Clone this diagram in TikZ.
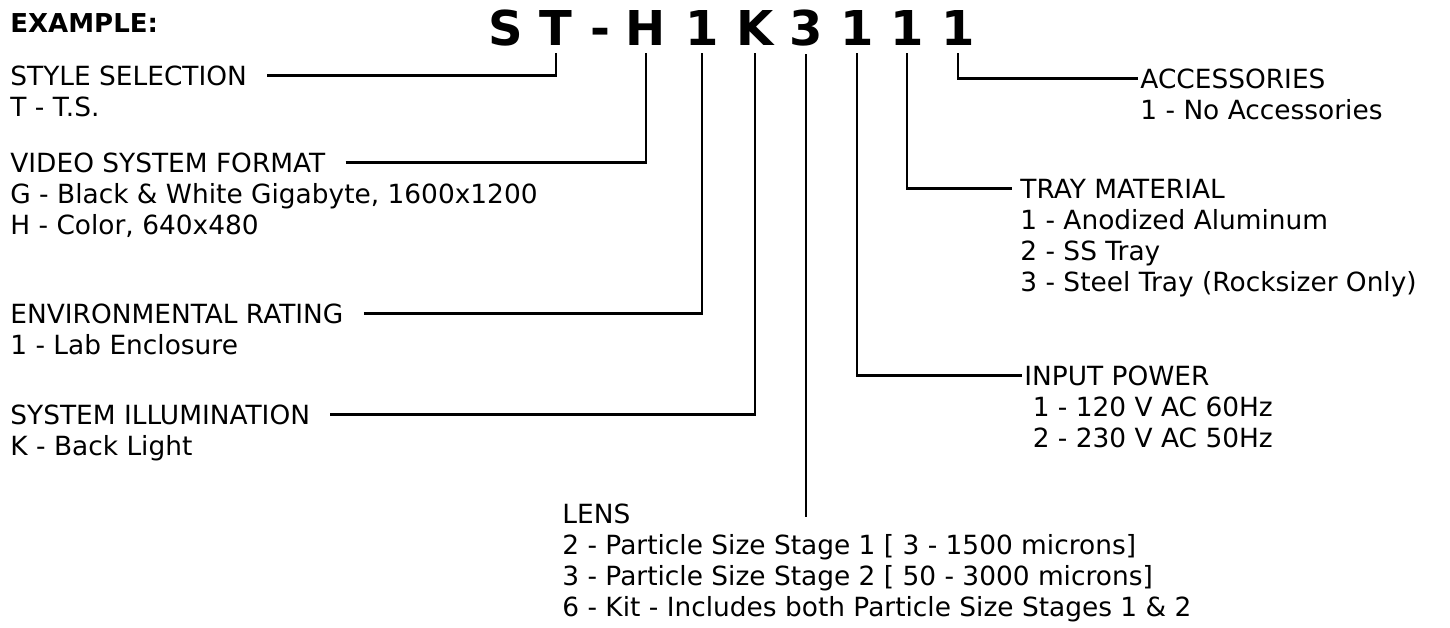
\documentclass[tikz,border=0pt]{standalone}
\usepackage{fontspec}
\setmainfont{DejaVu Sans}
\usetikzlibrary{positioning}

\tikzset{
  code/.style={font=\fontsize{24}{28}\selectfont\bfseries, anchor=base, inner xsep=0pt, inner ysep=4pt},
  title/.style={font=\fontsize{13.2}{15.5}\selectfont, anchor=base west, inner sep=0pt},
  items/.style={font=\fontsize{13.2}{15.5}\selectfont, align=left, inner sep=0pt, anchor=north west},
  lead/.style={line width=1.3pt},
}

\begin{document}
\begin{tikzpicture}[x=0.5pt, y=-0.5pt]
  \useasboundingbox (0,0) rectangle (1450,627);

  \node[title, font=\fontsize{13}{15.5}\selectfont\bfseries] (ex) at (10,32) {EXAMPLE:};

  % part number, one node per character
  \foreach \ch/\x/\n in {S/506/cS, T/556/cT, -/600/cD, H/646/cH, 1/702/cE, K/755/cK, 3/806/cL, 1/857/cP, 1/907/cM, 1/958/cA}
    \node[code] (\n) at (\x,45) {\ch};

  % left side
  \node[title] (sty) at (10,85) {STYLE SELECTION};
  \node[below=4.65pt of sty.base west, items] (sty-i) {\strut T - T.S.};
  \draw[lead] ([xshift=10pt]sty.east) -| (cT.south);

  \node[title] (vid) at (10,172) {VIDEO SYSTEM FORMAT};
  \node[below=4.65pt of vid.base west, items] (vid-i)
    {\strut G - Black \& White Gigabyte, 1600x1200\\ \strut H - Color, 640x480};
  \draw[lead] ([xshift=10pt]vid.east) -| (cH.south);

  \node[title] (env) at (10,323) {ENVIRONMENTAL RATING};
  \node[below=4.65pt of env.base west, items] (env-i) {\strut 1 - Lab Enclosure};
  \draw[lead] ([xshift=10pt]env.east) -| (cE.south);

  \node[title] (ill) at (10,424) {SYSTEM ILLUMINATION};
  \node[below=4.65pt of ill.base west, items] (ill-i) {\strut K - Back Light};
  \draw[lead] ([xshift=10pt]ill.east) -| (cK.south);

  % right side
  \node[title] (acc) at (1140,88) {ACCESSORIES};
  \node[below=4.65pt of acc.base west, items] (acc-i) {\strut 1 - No Accessories};
  \draw[lead] (cA.south) |- ([xshift=-1pt]acc.west);

  \node[title] (tray) at (1020,198) {TRAY MATERIAL};
  \node[below=4.65pt of tray.base west, items] (tray-i)
    {\strut 1 - Anodized Aluminum\\ \strut 2 - SS Tray\\ \strut 3 - Steel Tray (Rocksizer Only)};
  \draw[lead] (cM.south) |- ([xshift=-4pt]tray.west);

  \node[title] (pow) at (1024,385) {INPUT POWER};
  \node[below=4.65pt of pow.base west, items] (pow-i)
    {\strut\ 1 - 120 V AC 60Hz\\ \strut\ 2 - 230 V AC 50Hz};
  \draw[lead] (cP.south) |- ([xshift=-1pt]pow.west);

  % bottom
  \node[title] (lens) at (562,523) {LENS};
  \node[below=4.65pt of lens.base west, items] (lens-i)
    {\strut 2 - Particle Size Stage 1 [ 3 - 1500 microns]\\
     \strut 3 - Particle Size Stage 2 [ 50 - 3000 microns]\\
     \strut 6 - Kit - Includes both Particle Size Stages 1 \& 2};
  \draw[lead] (cL.south) -- ([yshift=-2pt]cL.south |- lens.east);
\end{tikzpicture}
\end{document}
